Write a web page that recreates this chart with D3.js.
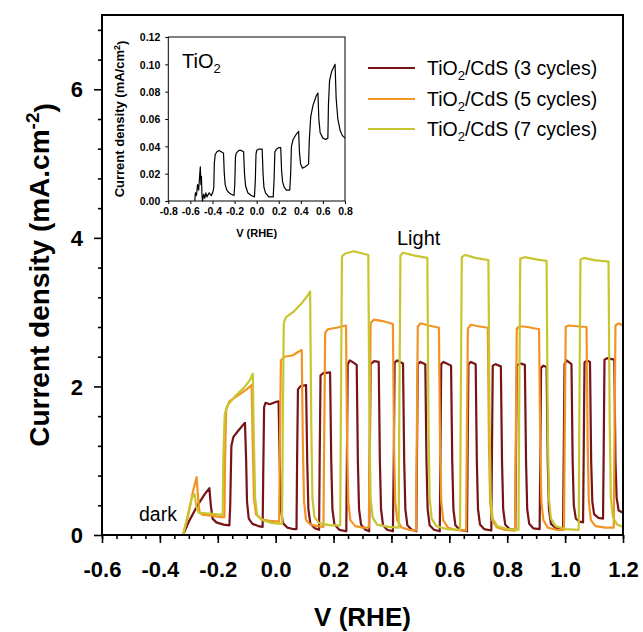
<!DOCTYPE html>
<html><head><meta charset="utf-8">
<script src="https://cdn.jsdelivr.net/npm/d3@7"></script>
<style>
body{margin:0;background:#fff}
svg{display:block}
text{font-family:"Liberation Sans",Arial,sans-serif;fill:#000}
</style>
</head><body>
<svg id="chart" width="643" height="632"></svg>
<script>
// ---------------- data ----------------
const xTicks = [-0.6,-0.4,-0.2,0.0,0.2,0.4,0.6,0.8,1.0,1.2];
const yTicks = [0,2,4,6];
const insetXTicks = [-0.8,-0.6,-0.4,-0.2,0.0,0.2,0.4,0.6,0.8];
const insetYTicks = [0.00,0.02,0.04,0.06,0.08,0.10,0.12];
const seriesNames = ["3 cycles","5 cycles","7 cycles"];
const seriesColors = ["#761418","#f29424","#c8c630"];

const cycles3 = [
[-0.32,0],[-0.30,0.18],[-0.27,0.40],[-0.245,0.55],[-0.229,0.63],[-0.224,0.40],[-0.218,0.22],[-0.205,0.17],[-0.18,0.14],[-0.16,0.13],
[-0.157,0.40],[-0.153,1.20],[-0.146,1.32],[-0.13,1.40],[-0.115,1.47],[-0.106,1.51],[-0.102,1.00],[-0.099,0.45],[-0.093,0.22],[-0.08,0.15],[-0.06,0.12],[-0.045,0.11],
[-0.043,0.80],[-0.040,1.72],[-0.035,1.78],[-0.02,1.76],[0.0,1.79],[0.01,1.80],[0.014,1.00],[0.018,0.35],[0.025,0.16],[0.04,0.10],[0.06,0.08],[0.072,0.08],
[0.074,1.00],[0.077,1.96],[0.085,2.00],[0.105,2.02],[0.109,1.00],[0.113,0.35],[0.12,0.15],[0.135,0.09],[0.15,0.07],
[0.152,1.00],[0.155,2.15],[0.165,2.18],[0.188,2.19],[0.192,1.00],[0.196,0.35],[0.203,0.14],[0.22,0.07],[0.244,0.05],
[0.246,1.00],[0.249,2.30],[0.256,2.35],[0.265,2.33],[0.28,2.29],[0.284,1.00],[0.288,0.35],[0.295,0.14],[0.31,0.07],[0.323,0.05],
[0.325,1.00],[0.328,2.30],[0.34,2.34],[0.356,2.33],[0.36,1.00],[0.364,0.35],[0.371,0.13],[0.385,0.07],[0.405,0.05],
[0.408,1.00],[0.411,2.32],[0.42,2.35],[0.44,2.31],[0.444,1.00],[0.448,0.35],[0.455,0.13],[0.47,0.07],[0.486,0.05],
[0.488,1.00],[0.491,2.30],[0.50,2.33],[0.517,2.30],[0.521,1.00],[0.525,0.35],[0.532,0.13],[0.547,0.07],[0.567,0.05],
[0.569,1.00],[0.572,2.30],[0.58,2.33],[0.606,2.28],[0.61,1.00],[0.614,0.35],[0.621,0.13],[0.636,0.07],[0.661,0.05],
[0.663,1.00],[0.666,2.30],[0.675,2.33],[0.691,2.30],[0.695,1.00],[0.699,0.35],[0.706,0.14],[0.72,0.08],[0.745,0.06],
[0.747,1.00],[0.75,2.28],[0.76,2.30],[0.778,2.27],[0.782,1.00],[0.786,0.35],[0.793,0.14],[0.808,0.08],[0.828,0.07],
[0.83,1.00],[0.833,2.28],[0.845,2.31],[0.861,2.29],[0.865,1.00],[0.869,0.35],[0.876,0.15],[0.89,0.09],[0.912,0.08],
[0.914,1.00],[0.917,2.25],[0.925,2.28],[0.936,2.26],[0.94,1.00],[0.944,0.35],[0.951,0.15],[0.966,0.10],[0.993,0.08],
[0.995,1.00],[0.998,2.30],[1.005,2.35],[1.022,2.30],[1.026,1.00],[1.03,0.40],[1.037,0.22],[1.05,0.18],[1.062,0.17],
[1.064,1.00],[1.067,2.32],[1.075,2.35],[1.086,2.33],[1.09,1.00],[1.094,0.45],[1.10,0.28],[1.115,0.23],[1.131,0.22],
[1.133,1.00],[1.136,2.36],[1.145,2.38],[1.17,2.36],[1.174,1.00],[1.178,0.50],[1.185,0.33],[1.20,0.30]
];

const cycles5 = [
[-0.32,0],[-0.30,0.30],[-0.285,0.60],[-0.273,0.78],[-0.268,0.50],[-0.263,0.30],[-0.25,0.27],[-0.22,0.26],[-0.19,0.24],[-0.177,0.24],
[-0.175,1.00],[-0.171,1.68],[-0.16,1.80],[-0.13,1.88],[-0.10,1.96],[-0.083,2.02],[-0.079,1.20],[-0.075,0.50],[-0.068,0.28],[-0.05,0.21],[-0.02,0.19],[0.012,0.18],
[0.014,1.00],[0.018,2.35],[0.03,2.40],[0.06,2.42],[0.08,2.47],[0.09,2.49],[0.094,1.20],[0.098,0.45],[0.105,0.20],[0.12,0.14],[0.145,0.12],[0.165,0.11],
[0.167,1.00],[0.171,2.72],[0.18,2.77],[0.21,2.79],[0.243,2.82],[0.247,1.20],[0.251,0.45],[0.258,0.20],[0.275,0.12],[0.30,0.10],[0.322,0.10],
[0.324,1.00],[0.328,2.85],[0.34,2.90],[0.37,2.88],[0.405,2.84],[0.409,1.20],[0.413,0.45],[0.42,0.20],[0.435,0.10],[0.46,0.07],[0.485,0.06],
[0.487,1.00],[0.491,2.80],[0.50,2.85],[0.53,2.82],[0.564,2.79],[0.568,1.20],[0.572,0.45],[0.579,0.20],[0.595,0.10],[0.62,0.07],[0.658,0.06],
[0.66,1.00],[0.664,2.78],[0.675,2.83],[0.70,2.81],[0.733,2.79],[0.737,1.20],[0.741,0.45],[0.748,0.20],[0.765,0.10],[0.79,0.07],[0.827,0.06],
[0.829,1.00],[0.833,2.78],[0.845,2.81],[0.87,2.80],[0.91,2.77],[0.914,1.20],[0.918,0.45],[0.925,0.20],[0.94,0.10],[0.97,0.07],[0.996,0.07],
[0.998,1.00],[1.002,2.80],[1.012,2.82],[1.04,2.81],[1.074,2.80],[1.078,1.20],[1.082,0.45],[1.089,0.20],[1.105,0.12],[1.14,0.10],[1.168,0.10],
[1.17,1.00],[1.174,2.82],[1.185,2.85],[1.20,2.82]
];

const cycles7 = [
[-0.32,0],[-0.305,0.25],[-0.29,0.50],[-0.28,0.55],[-0.274,0.38],[-0.266,0.30],[-0.24,0.29],[-0.21,0.28],[-0.183,0.27],
[-0.181,1.00],[-0.176,1.62],[-0.169,1.73],[-0.14,1.87],[-0.11,1.98],[-0.09,2.08],[-0.079,2.17],[-0.075,1.20],[-0.071,0.50],[-0.064,0.27],[-0.045,0.20],[-0.01,0.16],[0.022,0.15],
[0.024,1.20],[0.028,2.85],[0.035,2.93],[0.06,3.00],[0.09,3.12],[0.11,3.22],[0.119,3.28],[0.123,1.50],[0.127,0.50],[0.134,0.24],[0.15,0.16],[0.19,0.13],[0.223,0.13],
[0.225,1.50],[0.229,3.75],[0.24,3.79],[0.27,3.82],[0.30,3.79],[0.32,3.77],[0.324,1.50],[0.328,0.50],[0.335,0.24],[0.35,0.14],[0.39,0.11],[0.425,0.10],
[0.427,1.50],[0.431,3.76],[0.44,3.80],[0.48,3.76],[0.524,3.73],[0.528,1.50],[0.532,0.50],[0.539,0.22],[0.555,0.12],[0.59,0.08],[0.637,0.07],
[0.639,1.50],[0.643,3.74],[0.655,3.77],[0.69,3.73],[0.735,3.70],[0.739,1.50],[0.743,0.50],[0.75,0.22],[0.765,0.12],[0.80,0.08],[0.839,0.07],
[0.841,1.50],[0.845,3.72],[0.86,3.74],[0.90,3.71],[0.936,3.69],[0.94,1.50],[0.944,0.50],[0.951,0.22],[0.967,0.12],[1.00,0.08],[1.047,0.07],
[1.049,1.50],[1.053,3.71],[1.065,3.73],[1.10,3.70],[1.15,3.68],[1.154,1.50],[1.158,0.50],[1.165,0.24],[1.18,0.14],[1.20,0.11]
];

const tio2 = [
[-0.56,0.0],[-0.555,0.006],[-0.545,0.004],[-0.535,0.012],[-0.525,0.008],[-0.515,0.020],[-0.51,0.025],[-0.505,0.012],[-0.50,0.018],[-0.495,0.004],[-0.49,0.0],[-0.48,0.005],[-0.47,0.002],[-0.46,0.006],[-0.45,0.003],[-0.43,0.006],[-0.41,0.004],[-0.395,0.007],[-0.388,0.010],
[-0.383,0.028],[-0.375,0.034],[-0.36,0.036],[-0.34,0.037],[-0.32,0.036],[-0.30,0.035],[-0.293,0.020],[-0.285,0.012],[-0.27,0.008],[-0.25,0.006],[-0.23,0.005],[-0.205,0.004],
[-0.198,0.012],[-0.192,0.032],[-0.185,0.035],[-0.16,0.037],[-0.14,0.037],[-0.118,0.036],[-0.11,0.020],[-0.10,0.011],[-0.08,0.006],[-0.05,0.004],[-0.02,0.003],
[-0.012,0.015],[-0.006,0.034],[0.0,0.037],[0.02,0.038],[0.05,0.038],[0.058,0.020],[0.066,0.010],[0.08,0.006],[0.11,0.003],[0.15,0.003],
[0.158,0.016],[0.165,0.036],[0.18,0.038],[0.20,0.039],[0.218,0.039],[0.226,0.022],[0.235,0.014],[0.25,0.010],[0.27,0.008],[0.30,0.008],
[0.308,0.020],[0.315,0.040],[0.33,0.045],[0.36,0.049],[0.38,0.051],[0.388,0.035],[0.398,0.027],[0.415,0.024],[0.44,0.025],[0.47,0.027],
[0.477,0.045],[0.49,0.062],[0.51,0.070],[0.54,0.077],[0.555,0.079],[0.563,0.060],[0.575,0.050],[0.60,0.046],[0.625,0.045],[0.645,0.046],
[0.65,0.070],[0.66,0.088],[0.68,0.095],[0.71,0.100],[0.72,0.075],[0.735,0.060],[0.755,0.052],[0.775,0.048],[0.80,0.046]
];

// ---------------- drawing ----------------
const svg = d3.select("#chart");
const m = {left:102, right:623, top:15, bottom:535};
const x = d3.scaleLinear().domain([-0.6,1.2]).range([m.left,m.right]);
const y = d3.scaleLinear().domain([0,7]).range([m.bottom,m.top]);

const fmt1 = d => d.toFixed(1);

// minor ticks
const xMinor = d3.range(-0.6,1.2001,0.05).map(v=>+v.toFixed(3));
const yMinor = d3.range(0,7.0001,0.4).map(v=>+v.toFixed(3)).filter(v=>!yTicks.includes(v));

const gxMinor = svg.append("g").attr("transform",`translate(0,${m.bottom})`)
  .call(d3.axisBottom(x).tickValues(xMinor).tickSize(4).tickFormat(""));
const gx = svg.append("g").attr("transform",`translate(0,${m.bottom})`)
  .call(d3.axisBottom(x).tickValues(xTicks).tickSize(8).tickFormat(fmt1));
gx.selectAll("text").attr("y",42).attr("dy",null)
  .style("font-size","22px").style("font-weight","bold").style("font-family",'"Liberation Sans",Arial,sans-serif');

const gyMinor = svg.append("g").attr("transform",`translate(${m.left},0)`)
  .call(d3.axisLeft(y).tickValues(yMinor).tickSize(4).tickFormat(""));
const gy = svg.append("g").attr("transform",`translate(${m.left},0)`)
  .call(d3.axisLeft(y).tickValues(yTicks).tickSize(8).tickFormat(d=>String(d)));
gy.selectAll("text").attr("x",-19).attr("dy","0.35em")
  .style("font-size","22px").style("font-weight","bold").style("font-family",'"Liberation Sans",Arial,sans-serif');

[gxMinor,gx,gyMinor,gy].forEach(g=>{
  g.select(".domain").remove();
  g.selectAll("line").attr("stroke","#000").attr("stroke-width",1.6);
});

// series
const line = d3.line().x(d=>x(d[0])).y(d=>y(d[1]));
const allSeries = [cycles3,cycles5,cycles7];
svg.append("g").selectAll("path").data(allSeries).join("path")
  .attr("d",line).attr("fill","none")
  .attr("stroke",(d,i)=>seriesColors[i]).attr("stroke-width",2.2)
  .attr("stroke-linejoin","round");

// frame
svg.append("rect").attr("x",m.left).attr("y",m.top)
  .attr("width",m.right-m.left).attr("height",m.bottom-m.top)
  .attr("fill","none").attr("stroke","#000").attr("stroke-width",2);

// axis titles
svg.append("text").attr("x",(m.left+m.right)/2).attr("y",626)
  .attr("text-anchor","middle").style("font-size","26px").style("font-weight","bold")
  .text("V (RHE)");
const yt = svg.append("text").attr("transform",`translate(49,${(m.top+m.bottom)/2}) rotate(-90)`)
  .attr("text-anchor","middle").style("font-size","28px").style("font-weight","bold");
yt.append("tspan").text("Current density (mA.cm");
yt.append("tspan").attr("dy","-0.55em").style("font-size","19px").text("-2");
yt.append("tspan").attr("dy","0.55em").text(")");

// annotations
svg.append("text").attr("x",397).attr("y",245).style("font-size","20px").text("Light");
svg.append("text").attr("x",139).attr("y",521).style("font-size","19.5px").text("dark");

// legend
const legY = [68,99,129];
const leg = svg.append("g");
seriesNames.forEach((n,i)=>{
  leg.append("line").attr("x1",368).attr("x2",415).attr("y1",legY[i]).attr("y2",legY[i])
    .attr("stroke",seriesColors[i]).attr("stroke-width",2);
  const t = leg.append("text").attr("x",427).attr("y",legY[i]+7).style("font-size","19.5px");
  t.append("tspan").text("TiO");
  t.append("tspan").attr("dy",5).style("font-size","13px").text("2");
  t.append("tspan").attr("dy",-5).text(`/CdS (${n})`);
});

// ---------------- inset ----------------
const im = {left:168.3, right:345, top:37, bottom:201};
const ix = d3.scaleLinear().domain([-0.8,0.8]).range([im.left,im.right]);
const iy = d3.scaleLinear().domain([0,0.12]).range([im.bottom,im.top]);

const igx = svg.append("g").attr("transform",`translate(0,${im.bottom})`)
  .call(d3.axisBottom(ix).tickValues(insetXTicks).tickSize(3).tickFormat(fmt1));
igx.selectAll("text").attr("y",14).attr("dy",null);
const igy = svg.append("g").attr("transform",`translate(${im.left},0)`)
  .call(d3.axisLeft(iy).tickValues(insetYTicks).tickSize(3).tickFormat(d=>d.toFixed(2)));
igy.selectAll("text").attr("x",-8).attr("dy","0.35em");
[igx,igy].forEach(g=>{
  g.select(".domain").remove();
  g.selectAll("line").attr("stroke","#000").attr("stroke-width",1);
  g.selectAll("text").style("font-size","10.5px").style("font-weight","bold")
    .style("font-family",'"Liberation Sans",Arial,sans-serif');
});

const iline = d3.line().x(d=>ix(d[0])).y(d=>iy(d[1]));
svg.append("path").datum(tio2).attr("d",iline).attr("fill","none")
  .attr("stroke","#000").attr("stroke-width",1.2).attr("stroke-linejoin","round");

svg.append("rect").attr("x",im.left).attr("y",im.top)
  .attr("width",im.right-im.left).attr("height",im.bottom-im.top)
  .attr("fill","none").attr("stroke","#000").attr("stroke-width",1);

svg.append("text").attr("x",(im.left+im.right)/2).attr("y",237)
  .attr("text-anchor","middle").style("font-size","11px").style("font-weight","bold").text("V (RHE)");
const iyt = svg.append("text").attr("transform",`translate(124,${(im.top+im.bottom)/2}) rotate(-90)`)
  .attr("text-anchor","middle").style("font-size","13px").style("font-weight","bold");
iyt.append("tspan").text("Current density (mA/cm");
iyt.append("tspan").attr("dy","-0.5em").style("font-size","9px").text("2");
iyt.append("tspan").attr("dy","0.5em").text(")");

const tl = svg.append("text").attr("x",182).attr("y",68).style("font-size","20px");
tl.append("tspan").text("TiO");
tl.append("tspan").attr("dy",5).style("font-size","13px").text("2");
</script>
</body></html>
